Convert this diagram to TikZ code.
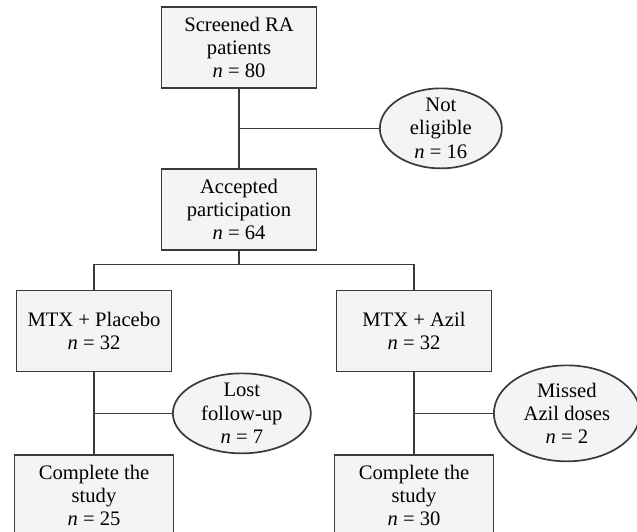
\documentclass[tikz,border=0pt]{standalone}
\usepackage{fontspec}
\setmainfont{Liberation Serif}
\usetikzlibrary{shapes.geometric,positioning,calc}
\newcommand{\nn}[1]{\textit{n}~=~#1}
\definecolor{boxfill}{HTML}{F3F4F4}
\definecolor{boxline}{HTML}{3A3A3A}

\begin{document}
\begin{tikzpicture}[
  x=0.5pt, y=-0.5pt,
  font=\fontsize{10.3}{11.6}\selectfont,
  box/.style={rectangle, draw=boxline, fill=boxfill, line width=0.85pt,
    minimum width=77.5pt, minimum height=40.5pt, align=center, inner sep=2pt},
  excl/.style={ellipse, draw=boxline, fill=boxfill, line width=0.85pt,
    minimum height=40pt, align=center, inner xsep=0pt, inner ysep=-6pt},
  conn/.style={draw=boxline, line width=0.85pt}
]
\useasboundingbox (0,0) rectangle (637,531);

\node[box] (screen) at (239,47.5) {Screened RA\\patients\\\nn{80}};
\node[box, below=39.5pt of screen] (accept) {Accepted\\participation\\\nn{64}};
\node[box] (placebo) at (94,331) {MTX + Placebo\\\nn{32}};
\node[box] (azil) at (414,331) {MTX + Azil\\\nn{32}};
\node[box, minimum width=79.5pt, below=41pt of placebo] (doneP)
  {Complete the\\study\\\nn{25}};
\node[box, minimum width=79.5pt, below=41pt of azil] (doneA)
  {Complete the\\study\\\nn{30}};

% exclusions
\coordinate (j1) at ($(screen.south)!0.5!(accept.north)$);
\coordinate (j2) at ($(placebo.south)!0.5!(doneP.north)$);
\coordinate (j3) at ($(azil.south)!0.5!(doneA.north)$);
\node[excl, minimum width=61pt, right=70pt of j1] (notelig) {Not\\eligible\\\nn{16}};
\node[excl, minimum width=69pt, right=39pt of j2] (lost) {Lost\\follow-up\\\nn{7}};
\node[excl, minimum width=73pt, minimum height=48pt, right=39.5pt of j3] (missed)
  {Missed\\Azil doses\\\nn{2}};

\coordinate[below=7pt of accept.south] (fork);

\draw[conn] (screen) -- (accept);
\draw[conn] (j1) -- (notelig);
\draw[conn] (accept) -- (fork);
\draw[conn] (placebo.north) |- (fork) -| (azil.north);
\draw[conn] (placebo) -- (doneP);
\draw[conn] (j2) -- (lost);
\draw[conn] (azil) -- (doneA);
\draw[conn] (j3) -- (missed);
\end{tikzpicture}
\end{document}
